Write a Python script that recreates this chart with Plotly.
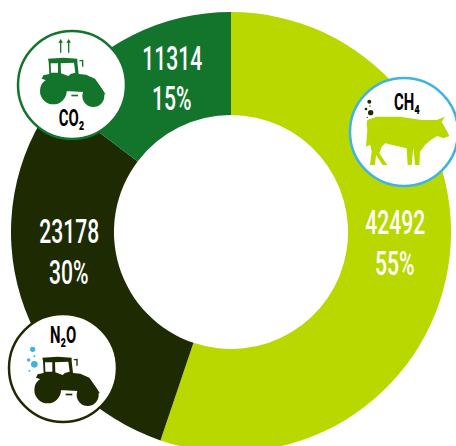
import plotly.graph_objects as go

gases = ["CH4", "N2O", "CO2"]
values = [42492, 23178, 11314]
percents = [55, 30, 15]
colors = ["#B8D800", "#1E2A02", "#12752B"]
gas_labels = ["CH₄", "N₂O", "CO₂"]

W, H = 456, 466
ML, MR, MT, MB = 11, 5, 12, 14
FONT = "Roboto"
SQUEEZE = 0.62


def X(px):
    return (px - ML) / (W - ML - MR)


def Y(py):
    return 1 - (py - MT) / (H - MT - MB)


def path_from(points, ox, oy, close=True):
    parts = []
    for i, (a, b) in enumerate(points):
        parts.append(("M" if i == 0 else "L") + f"{X(ox + a / 3):.5f},{Y(oy + b / 3):.5f}")
    return " ".join(parts) + (" Z" if close else "")


def circle(cx, cy, r, fill, line=None, lw=0):
    return dict(type="circle", xref="paper", yref="paper",
                x0=X(cx - r), x1=X(cx + r), y0=Y(cy + r), y1=Y(cy - r),
                fillcolor=fill, line=dict(color=line or fill, width=lw), layer="above")


def poly(points, ox, oy, fill):
    return dict(type="path", xref="paper", yref="paper", path=path_from(points, ox, oy),
                fillcolor=fill, line=dict(width=0), layer="above")


TRACTOR = [(125, 236), (130, 226), (148, 222), (146, 186), (144, 176), (190, 173), (232, 176), (232, 186),
           (236, 222), (258, 224), (285, 236), (303, 262), (316, 282), (280, 300), (250, 276), (210, 274),
           (190, 274), (165, 250)]
WIN_A = [(152, 190), (174, 190), (174, 218), (153, 218)]
WIN_B = [(182, 190), (222, 188), (226, 218), (212, 222), (205, 228), (183, 220)]
PIPE = [(238, 181), (250, 179), (250, 200), (246, 200), (246, 184), (238, 184)]
HITCH = [(214, 284), (234, 284), (234, 289), (214, 289)]


def tractor(ox, oy, fill):
    return [poly(TRACTOR, ox, oy, fill),
            circle(ox + 160 / 3, oy + 273 / 3, 40 / 3, fill),
            circle(ox + 280 / 3, oy + 288 / 3, 33 / 3, fill),
            poly(WIN_A, ox, oy, "white"), poly(WIN_B, ox, oy, "white"),
            poly(PIPE, ox, oy, fill), poly(HITCH, ox, oy, fill)]


COW = [(82, 150), (110, 140), (180, 140), (245, 150), (290, 150), (315, 140), (305, 155), (322, 185), (328, 198),
       (310, 205), (292, 198), (272, 210), (255, 225), (240, 245), (238, 285), (225, 285), (220, 232), (215, 285),
       (203, 285), (200, 235), (135, 220), (125, 230), (118, 250), (142, 285), (128, 285), (108, 255), (105, 285),
       (90, 285), (95, 245), (88, 205), (93, 230), (88, 225), (78, 230), (82, 180), (80, 160)]

shapes = [
    circle(72, 85, 54, "white", colors[2], 2.5),
    circle(404, 132, 54, "white", "#3FB4E0", 2.5),
    circle(63, 368, 54, "white", colors[1], 2.5),
]
shapes += tractor(0, 0, colors[2])
shapes += tractor(-17 / 3, 310 - 33 / 3, colors[1])
shapes.append(poly(COW, 340, 70, colors[0]))
for bx, by, br in [(88, 95, 6), (92, 128, 8), (78, 117, 4), (90, 108, 2), (82, 142, 2)]:
    shapes.append(circle(340 + bx / 3, 70 + by / 3, br / 3, colors[1]))
for bx, by, br in [(98, 118, 8), (103, 163, 10), (86, 150, 5), (103, 139, 3), (88, 182, 3)]:
    shapes.append(circle(bx / 3, 310 + by / 3, br / 3, "#3FB4E0"))
for ax in (182, 206):
    shapes.append(poly([(ax - 2, 158), (ax - 2, 128), (ax - 7, 128), (ax, 117), (ax + 7, 128), (ax + 2, 128), (ax + 2, 158)],
                       0, 0, colors[2]))

VALUE_POS = [(395, 222, 263), (69, 231, 272), (172, 58, 98)]
GAS_POS = [(407, 102), (63, 335), (71, 118)]

annotations = []
for v, p, (x, y1, y2) in zip(values, percents, VALUE_POS):
    for txt, y in ((str(v), y1), (f"{p}%", y2)):
        annotations.append(dict(text=txt, x=X(x), y=Y(y), xref="paper", yref="paper", showarrow=False,
                                xanchor="center", yanchor="middle",
                                font=dict(family=FONT, size=34, color="white", weight=500)))
for g, (x, y) in zip(gas_labels, GAS_POS):
    annotations.append(dict(text=g, x=X(x), y=Y(y), xref="paper", yref="paper", showarrow=False,
                            xanchor="center", yanchor="middle",
                            font=dict(family=FONT, size=24, color="black", weight="bold")))

fig = go.Figure(go.Pie(labels=gases, values=values, hole=0.532, sort=False, direction="clockwise", rotation=0,
                       marker=dict(colors=colors, line=dict(width=0)), textinfo="none", hoverinfo="label+value"))
fig.update_layout(width=W, height=H, autosize=False, showlegend=False,
                  margin=dict(l=ML, r=MR, t=MT, b=MB, pad=0), paper_bgcolor="white",
                  shapes=shapes, annotations=annotations)

post = """
document.documentElement.style.overflow='hidden';
document.body.style.margin='0';
document.body.style.overflow='hidden';
document.querySelectorAll('.annotation-text').forEach(function(t){
  var l=t.getComputedTextLength();
  t.setAttribute('lengthAdjust','spacingAndGlyphs');
  t.setAttribute('textLength',(l*%s).toFixed(1));
});
""" % SQUEEZE
fig.write_html("out.html", post_script=post, config={"displayModeBar": False})
